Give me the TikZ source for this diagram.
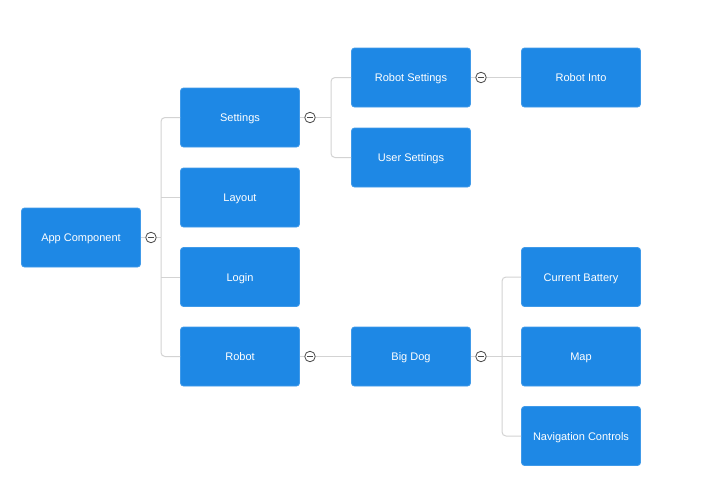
\documentclass[tikz,border=0pt]{standalone}
\usepackage{fontspec}
\setmainfont{Liberation Sans}
\definecolor{boxblue}{HTML}{1E88E5}
\definecolor{linegray}{HTML}{D3D3D3}
\definecolor{circgray}{HTML}{4A4A4A}
\begin{document}
\begin{tikzpicture}[x=1pt,y=-1pt,
  box/.style={rectangle, rounded corners=3pt, fill=boxblue, draw=boxblue!85!white, line width=0.8pt,
    minimum width=119pt, minimum height=59pt, inner sep=0pt, text=white,
    text height=8pt, text depth=0pt,
    font=\fontsize{11}{13}\selectfont},
  toggle/.style={circle, draw=circgray, fill=white, line width=0.8pt, minimum size=10.5pt, inner sep=0pt,
    path picture={\draw[circgray, line width=0.8pt] ([xshift=-2.6pt]path picture bounding box.center) -- ([xshift=2.6pt]path picture bounding box.center);}},
  conn/.style={draw=linegray, line width=1pt},
  rconn/.style={conn, rounded corners=4pt}]
\useasboundingbox (0,0) rectangle (703,493);
% nodes
\node[box] (app) at (81,237.5) {App Component};
\node[box] (settings) at (240,117.5) {Settings};
\node[box] (layout) at (240,197.5) {Layout};
\node[box] (login) at (240,277) {Login};
\node[box] (robot) at (240,356.5) {Robot};
\node[box] (rset) at (411,77.5) {Robot Settings};
\node[box] (uset) at (411,157.5) {User Settings};
\node[box] (rinto) at (581,77.5) {Robot Into};
\node[box] (bigdog) at (411,356.5) {Big Dog};
\node[box] (batt) at (581,277) {Current Battery};
\node[box] (map) at (581,356.5) {Map};
\node[box] (nav) at (581,436) {Navigation Controls};
% toggles
\node[toggle] (t0) at (151,237.5) {};
\node[toggle] (t1) at (310,117.5) {};
\node[toggle] (t2) at (481,77.5) {};
\node[toggle] (t3) at (310,356.5) {};
\node[toggle] (t4) at (481,356.5) {};
% bus coordinates
\coordinate (b0) at (161,237.5);
\coordinate (b1) at (331,117.5);
\coordinate (b4) at (502,356.5);
% connectors
\draw[conn] (app.east) -- (t0.west);
\draw[conn] (t0.east) -- (b0);
\draw[rconn] (b0) |- (settings.west);
\draw[rconn] (b0) |- (robot.west);
\draw[conn] (b0 |- layout.west) -- (layout.west);
\draw[conn] (b0 |- login.west) -- (login.west);
\draw[conn] (settings.east) -- (t1.west);
\draw[conn] (t1.east) -- (b1);
\draw[rconn] (b1) |- (rset.west);
\draw[rconn] (b1) |- (uset.west);
\draw[conn] (rset.east) -- (t2.west);
\draw[conn] (t2.east) -- (rinto.west);
\draw[conn] (robot.east) -- (t3.west);
\draw[conn] (t3.east) -- (bigdog.west);
\draw[conn] (bigdog.east) -- (t4.west);
\draw[conn] (t4.east) -- (b4);
\draw[rconn] (b4) |- (batt.west);
\draw[rconn] (b4) |- (nav.west);
\draw[conn] (b4) -- (map.west);
\end{tikzpicture}
\end{document}
